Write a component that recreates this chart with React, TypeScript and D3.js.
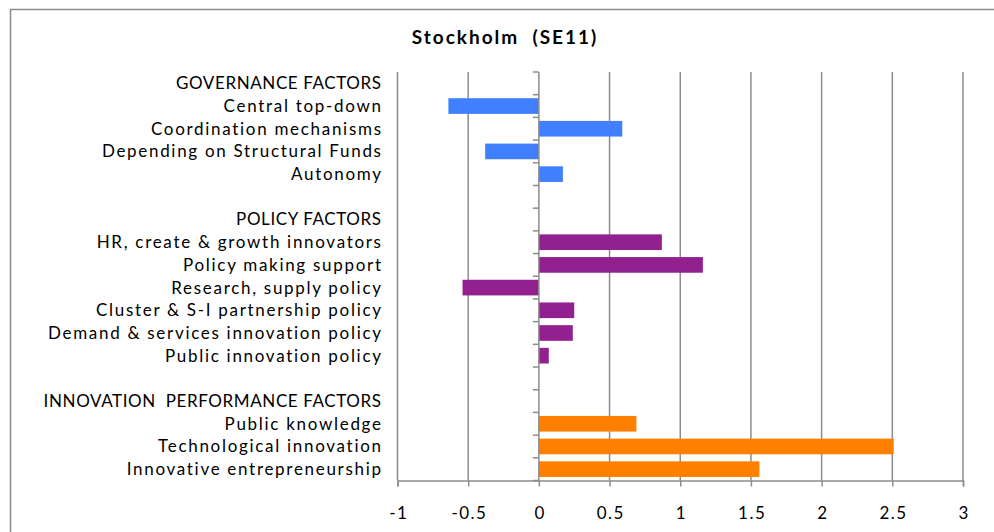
import React, { useEffect, useRef } from 'react';
import * as d3 from 'd3';

const title = 'Stockholm  (SE11)';

// rows of the chart, top to bottom (headers and spacer rows have no bar)
const governanceLabels = ['Central top-down', 'Coordination mechanisms', 'Depending on Structural Funds', 'Autonomy'];
const governanceValues = [-0.64, 0.59, -0.38, 0.17];

const policyLabels = [
    'HR, create & growth innovators',
    'Policy making support',
    'Research, supply policy',
    'Cluster & S-I partnership policy',
    'Demand & services innovation policy',
    'Public innovation policy',
];
const policyValues = [0.87, 1.16, -0.54, 0.25, 0.24, 0.07];

const innovationLabels = ['Public knowledge', 'Technological innovation', 'Innovative entrepreneurship'];
const innovationValues = [0.69, 2.51, 1.56];

const xTicks = [-1, -0.5, 0, 0.5, 1, 1.5, 2, 2.5, 3];

type Row = { label: string; value: number | null; color: string; header: boolean };

const groups = [
    { header: 'GOVERNANCE FACTORS', labels: governanceLabels, values: governanceValues, color: '#4080ff' },
    { header: 'POLICY FACTORS', labels: policyLabels, values: policyValues, color: '#92208f' },
    { header: 'INNOVATION  PERFORMANCE FACTORS', labels: innovationLabels, values: innovationValues, color: '#ff8000' },
];

const rows: Row[] = [];
groups.forEach((g, gi) => {
    if (gi > 0) rows.push({ label: '', value: null, color: g.color, header: true });
    rows.push({ label: g.header, value: null, color: g.color, header: true });
    g.labels.forEach((l, i) => rows.push({ label: l, value: g.values[i], color: g.color, header: false }));
});

const W = 994;
const H = 532;
const FONT = 'Lato, "Open Sans", sans-serif';

const App = () => {
    const ref = useRef<SVGSVGElement | null>(null);

    useEffect(() => {
        const svg = d3.select(ref.current);
        svg.selectAll('*').remove();

        const plot = { left: 397.5, right: 963, top: 72, bottom: 480.5 };

        const x = d3.scaleLinear().domain([-1, 3]).range([plot.left, plot.right]);
        const y = d3.scaleBand<string>()
            .domain(rows.map((_, i) => String(i)))
            .range([plot.top, plot.bottom])
            .paddingInner(0.31)
            .paddingOuter(0.155);

        svg.append('rect').attr('width', W).attr('height', H).attr('fill', '#fff');

        // chart frame (only top and left edges visible)
        svg.append('path')
            .attr('d', `M10.5,${H} V9.5 H${W}`)
            .attr('fill', 'none')
            .attr('stroke', '#8c8c8c')
            .attr('stroke-width', 1.5);

        svg.append('text')
            .attr('x', 505)
            .attr('y', 44)
            .attr('text-anchor', 'middle')
            .attr('font-family', FONT)
            .attr('font-weight', 'bold')
            .attr('font-size', 19)
            .attr('letter-spacing', 2)
            .style('white-space', 'pre')
            .text(title);

        // vertical gridlines
        svg.append('g')
            .selectAll('line')
            .data(xTicks.filter(t => t !== 0))
            .join('line')
            .attr('x1', d => x(d))
            .attr('x2', d => x(d))
            .attr('y1', plot.top)
            .attr('y2', plot.bottom)
            .attr('stroke', '#8c8c8c')
            .attr('stroke-width', 1.5);

        // bars
        const step = y.step();
        svg.append('g')
            .selectAll('rect')
            .data(rows.map((r, i) => ({ ...r, key: String(i) })).filter(r => r.value !== null))
            .join('rect')
            .attr('x', d => Math.min(x(0), x(d.value as number)))
            .attr('width', d => Math.abs(x(d.value as number) - x(0)))
            .attr('y', d => y(d.key) as number)
            .attr('height', y.bandwidth())
            .attr('fill', d => d.color);

        // x axis
        const xAxis = svg.append('g')
            .attr('transform', `translate(0,${plot.bottom})`)
            .call(d3.axisBottom(x).tickValues(xTicks).tickSize(6).tickPadding(20).tickFormat(d => String(d)));
        xAxis.select('.domain').attr('stroke', '#8c8c8c').attr('stroke-width', 1.5);
        xAxis.selectAll('.tick line').attr('stroke', '#8c8c8c').attr('stroke-width', 1.5);
        xAxis.selectAll('.tick text')
            .attr('font-family', FONT)
            .attr('font-size', 17)
            .attr('letter-spacing', 1.5)
            .attr('dx', 0.75)
            .attr('fill', '#000');

        // category axis at zero
        const boundaries = d3.range(rows.length + 1).map(i => plot.top + i * step);
        svg.append('line')
            .attr('x1', x(0)).attr('x2', x(0))
            .attr('y1', plot.top).attr('y2', plot.bottom)
            .attr('stroke', '#8c8c8c').attr('stroke-width', 1.5);
        svg.append('g')
            .selectAll('line')
            .data(boundaries)
            .join('line')
            .attr('x1', x(0) - 6).attr('x2', x(0))
            .attr('y1', d => d).attr('y2', d => d)
            .attr('stroke', '#8c8c8c').attr('stroke-width', 1.5);

        // category labels
        svg.append('g')
            .selectAll('text')
            .data(rows.map((r, i) => ({ ...r, key: String(i) })))
            .join('text')
            .attr('x', d => 381 + (d.header ? 0.6 : 1.7))
            .attr('y', d => (y(d.key) as number) + y.bandwidth() / 2)
            .attr('dy', '0.35em')
            .attr('text-anchor', 'end')
            .attr('font-family', FONT)
            .attr('font-size', 17)
            .attr('letter-spacing', d => (d.header ? 0.6 : 1.7))
            .style('white-space', 'pre')
            .attr('fill', '#000')
            .text(d => d.label);
    }, []);

    return (
        <svg
            ref={ref}
            width={W}
            height={H}
            style={{ position: 'absolute', left: 0, top: 0, display: 'block' }}
        />
    );
};

export default App;
